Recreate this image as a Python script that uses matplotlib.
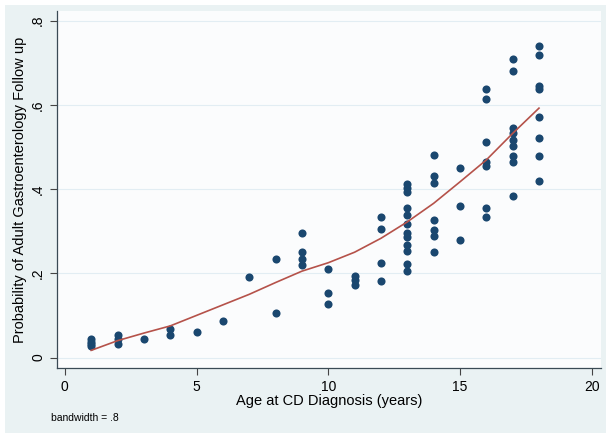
import matplotlib.pyplot as plt

plt.rcParams['font.family'] = ['Liberation Sans', 'DejaVu Sans']

# observed probabilities per age at diagnosis
age = ([1] * 4 + [2] * 3 + [3] + [4] * 2 + [5] + [6] + [7] + [8] * 2 + [9] * 4
       + [10] * 3 + [11] * 3 + [12] * 4 + [13] * 12 + [14] * 7 + [15] * 3
       + [16] * 7 + [17] * 9 + [18] * 8)
prob = [0.045, 0.038, 0.031, 0.027,
        0.053, 0.043, 0.032,
        0.043,
        0.067, 0.053,
        0.060,
        0.087,
        0.190,
        0.233, 0.105,
        0.296, 0.250, 0.235, 0.219,
        0.209, 0.154, 0.128,
        0.193, 0.184, 0.173,
        0.334, 0.304, 0.224, 0.181,
        0.411, 0.403, 0.394, 0.354, 0.338, 0.317, 0.295, 0.285, 0.267, 0.253, 0.222, 0.206,
        0.481, 0.432, 0.414, 0.326, 0.303, 0.289, 0.250,
        0.451, 0.360, 0.279,
        0.637, 0.613, 0.512, 0.463, 0.455, 0.356, 0.333,
        0.708, 0.679, 0.544, 0.534, 0.516, 0.502, 0.478, 0.463, 0.383,
        0.740, 0.718, 0.645, 0.637, 0.572, 0.520, 0.478, 0.419]

# lowess fit
fit_x = [1, 2, 3, 4, 5, 6, 7, 8, 9, 10, 11, 12, 13, 14, 15, 16, 17, 18]
fit_y = [0.017, 0.040, 0.058, 0.075, 0.100, 0.125, 0.150, 0.178, 0.205, 0.225,
         0.250, 0.283, 0.322, 0.366, 0.417, 0.469, 0.532, 0.592]

xticks = [0, 5, 10, 15, 20]
yticks = [0, 0.2, 0.4, 0.6, 0.8]
ytick_labels = ['0', '.2', '.4', '.6', '.8']

fig = plt.figure(figsize=(6.06, 4.33), dpi=100)
fig.patch.set_facecolor('white')
# light outer frame like the Stata graph region
fig.add_artist(plt.Rectangle((0.008, 0.0), 0.992, 0.988, transform=fig.transFigure,
                             facecolor='#eaf2f3', edgecolor='none', zorder=-10))

ax = fig.add_axes([0.094, 0.150, 0.898, 0.825])
ax.set_facecolor('#fbfcfd')

ax.scatter(age, prob, s=34, color='#1a476f', zorder=3, linewidths=0)
ax.plot(fit_x, fit_y, color='#b5524a', lw=1.2, zorder=4)

ax.set_xlim(-0.3, 20.36)
ax.set_ylim(-0.025, 0.823)
ax.set_xticks(xticks)
ax.set_yticks(yticks)
ax.set_yticklabels(ytick_labels, rotation=90, va='center')
ax.tick_params(axis='both', labelsize=10, length=5, color='#444444', direction='out')
ax.grid(axis='y', color='#e2edf3', lw=0.8)
ax.set_axisbelow(True)

for side in ['top', 'right']:
    ax.spines[side].set_visible(False)
for side in ['left', 'bottom']:
    ax.spines[side].set_color('#3a4a55')
    ax.spines[side].set_linewidth(0.9)

ax.set_xlabel('Age at CD Diagnosis (years)', fontsize=10.5, labelpad=0)
ax.set_ylabel('Probability of Adult Gastroenterology Follow up', fontsize=10.5, labelpad=3)

fig.text(0.084, 0.028, 'bandwidth = .8', fontsize=7.5)

fig.savefig('out.png', dpi=100)
